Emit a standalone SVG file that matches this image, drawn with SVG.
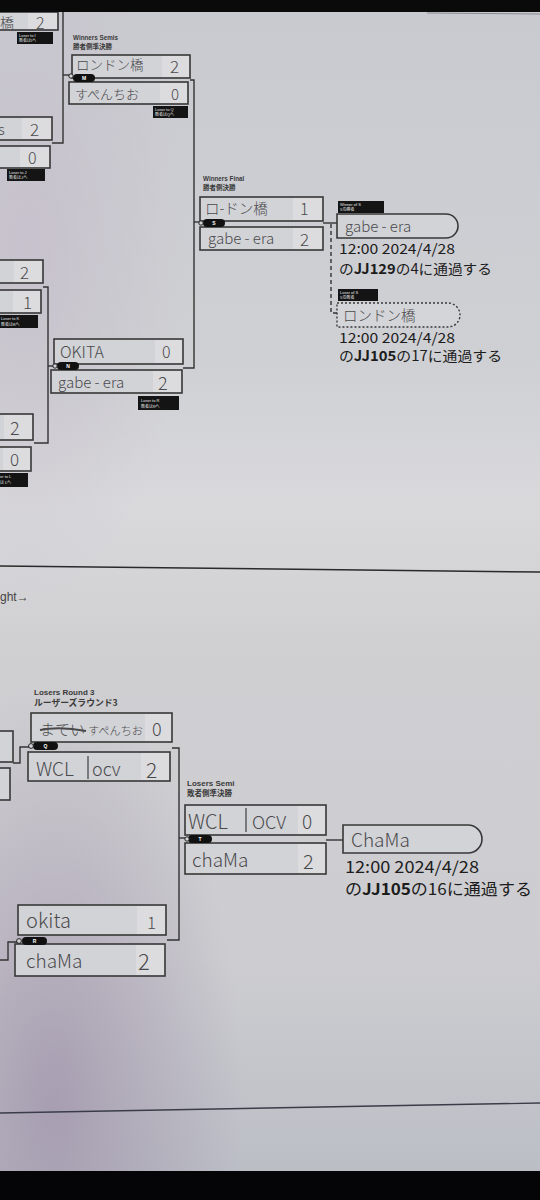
<svg xmlns="http://www.w3.org/2000/svg" width="540" height="1200" viewBox="0 0 540 1200">
<defs>
<linearGradient id="bg" x1="0" y1="0" x2="0" y2="1">
<stop offset="0" stop-color="#c9cad0"/>
<stop offset="0.3" stop-color="#cfd0d4"/>
<stop offset="0.42" stop-color="#d9d9dc"/>
<stop offset="0.55" stop-color="#cfcfd2"/>
<stop offset="0.8" stop-color="#cdcdd1"/>
<stop offset="1" stop-color="#b9bcc4"/>
</linearGradient>
<radialGradient id="pink" cx="0.1" cy="0.92" r="0.35" gradientUnits="objectBoundingBox">
<stop offset="0" stop-color="#a398ad" stop-opacity="0.85"/>
<stop offset="1" stop-color="#a398ad" stop-opacity="0"/>
</radialGradient>
<radialGradient id="pinktop" cx="0.05" cy="0.2" r="0.3">
<stop offset="0" stop-color="#c4bcc9" stop-opacity="0.7"/>
<stop offset="1" stop-color="#c4bcc9" stop-opacity="0"/>
</radialGradient>
<style>
.box{fill:#d2d3d7;stroke:#383838;stroke-width:1.6}
.cell{fill:#dcdcdf}
.hw{font-family:"Noto Sans CJK JP","Noto Sans",sans-serif;font-weight:300;fill:#4a4a4c}
.lbl{font-family:"Liberation Sans",Arial,sans-serif;font-weight:bold;fill:#3a3a3a}
.lblj{font-family:"Noto Sans CJK JP",sans-serif;font-weight:bold;fill:#3a3a3a}
.tag{fill:#141414}
.tagt{font-family:"Liberation Sans",Arial,sans-serif;font-size:4px;fill:#e8e8e8}
.tagj{font-family:"Noto Sans CJK JP",sans-serif;font-size:4px;fill:#e8e8e8}
.badge{fill:#111}
.badget{font-family:"Liberation Sans",Arial,sans-serif;font-weight:bold;font-size:5px;fill:#fff;text-anchor:middle}
.dot{fill:#d2d3d7;stroke:#222;stroke-width:1}
.line{fill:none;stroke:#333;stroke-width:1.4}
.info{font-family:"Noto Sans CJK JP","Noto Sans",sans-serif;fill:#1c1c1c}
</style>
</defs>

<rect width="540" height="1200" fill="url(#bg)"/>
<rect width="540" height="1200" fill="url(#pink)"/>
<rect width="540" height="1200" fill="url(#pinktop)"/>
<line x1="427" y1="13" x2="540" y2="14" stroke="#8a8b90" stroke-width="1"/>

<!-- page lines -->
<path d="M0,566 L540,572" stroke="#2a2a2a" stroke-width="1.5" fill="none"/>
<path d="M0,1113 L540,1103" stroke="#3a3d48" stroke-width="1.4" fill="none"/>
<text x="0" y="601" font-family="Liberation Sans, Arial, sans-serif" font-size="12" fill="#444">ght→</text>

<g id="connectors">
<path class="line" d="M63,12 V143 H52"/>
<path class="line" d="M63,75 H70"/>
<path class="line" d="M190,80 H194 V368 H183"/>
<path class="line" d="M194,222 H201"/>
<path class="line" d="M43,287 H48 V443 H34"/>
<path class="line" d="M48,366 H55"/>
<path class="line" d="M323,223 H337"/>
<path class="line" d="M331,224 V313 H337" stroke-dasharray="4 3"/>
<path class="line" d="M13,763 H20 V747 H30"/>
<path class="line" d="M172,748 H179 V940 H167"/>
<path class="line" d="M179,838 H188"/>
<path class="line" d="M326,840 H343"/>
<path class="line" d="M0,960 H8 V942 H18"/>
</g>

<!-- partial left nodes, top section -->
<g id="match-I">
<rect class="box" x="-2" y="12" width="60" height="18"/>
<rect class="cell" x="28" y="13" width="29" height="16"/>
<text class="hw" x="0" y="28" font-size="14">橋</text>
<text class="hw" x="36" y="29" font-size="16">2</text>
<rect class="tag" x="17" y="32" width="36" height="12"/>
<text class="tagt" x="19" y="37">Loser to I</text>
<text class="tagj" x="19" y="42">敗者はIへ</text>
</g>
<g id="match-J">
<rect class="box" x="-2" y="117" width="54" height="23"/>
<rect class="cell" x="22" y="118" width="29" height="21"/>
<text class="hw" x="-2" y="135" font-size="15">s</text>
<text class="hw" x="30" y="136" font-size="17">2</text>
<rect class="box" x="-2" y="146" width="52" height="22"/>
<rect class="cell" x="20" y="147" width="29" height="20"/>
<text class="hw" x="28" y="164" font-size="16">0</text>
<rect class="tag" x="7" y="169" width="38" height="12"/>
<text class="tagt" x="9" y="174">Loser to J</text>
<text class="tagj" x="9" y="179">敗者はJへ</text>
</g>
<g id="match-K">
<rect class="box" x="-2" y="260" width="45" height="23"/>
<rect class="cell" x="14" y="261" width="28" height="21"/>
<text class="hw" x="20" y="279" font-size="17">2</text>
<rect class="box" x="-2" y="290" width="43" height="23"/>
<rect class="cell" x="13" y="291" width="27" height="21"/>
<text class="hw" x="23" y="309" font-size="17">1</text>
<rect class="tag" x="-2" y="315" width="40" height="13"/>
<text class="tagt" x="1" y="320">Loser to K</text>
<text class="tagj" x="1" y="326">敗者はKへ</text>
</g>
<g id="match-L">
<rect class="box" x="-2" y="414" width="35" height="26"/>
<rect class="cell" x="4" y="415" width="28" height="24"/>
<text class="hw" x="10" y="435" font-size="18">2</text>
<rect class="box" x="-2" y="447" width="33" height="24"/>
<rect class="cell" x="3" y="448" width="27" height="22"/>
<text class="hw" x="10" y="466" font-size="17">0</text>
<rect class="tag" x="-2" y="473" width="30" height="14"/>
<text class="tagt" x="0" y="478">er to L</text>
<text class="tagj" x="0" y="484">は Lへ</text>
</g>

<!-- Winners Semis M -->
<g id="match-M">
<text class="lbl" x="73" y="40" font-size="6.3">Winners Semis</text>
<text class="lblj" x="73" y="49" font-size="6.5">勝者側準決勝</text>
<rect class="box" x="72" y="55" width="118" height="23"/>
<rect class="cell" x="162" y="56" width="27" height="21"/>
<text class="hw" x="76" y="70" font-size="13.5">ロンドン橋</text>
<text class="hw" x="170" y="73" font-size="17">2</text>
<rect class="box" x="69" y="82" width="119" height="22"/>
<rect class="cell" x="160" y="83" width="27" height="20"/>
<text class="hw" x="75" y="99" font-size="13">すぺんちお</text>
<text class="hw" x="171" y="100" font-size="15">0</text>
<rect class="badge" x="73" y="74" width="22" height="8" rx="4"/>
<circle class="dot" cx="71" cy="76" r="2.2"/>
<text class="badget" x="84" y="80">M</text>
<rect class="tag" x="153" y="106" width="35" height="12"/>
<text class="tagt" x="155" y="111">Loser to Q</text>
<text class="tagj" x="155" y="116">敗者はQへ</text>
</g>

<!-- Winners Round 2 N -->
<g id="match-N">
<rect class="box" x="54" y="339" width="129" height="25"/>
<rect class="cell" x="155" y="340" width="27" height="23"/>
<text class="hw" x="60" y="358" font-size="16">OKITA</text>
<text class="hw" x="162" y="358" font-size="16">0</text>
<rect class="box" x="51" y="370" width="131" height="23"/>
<rect class="cell" x="153" y="371" width="28" height="21"/>
<text class="hw" x="58" y="388" font-size="15">gabe - era</text>
<text class="hw" x="158" y="390" font-size="18">2</text>
<rect class="badge" x="57" y="362" width="22" height="8" rx="4"/>
<circle class="dot" cx="55" cy="366" r="2.2"/>
<text class="badget" x="68" y="368">N</text>
<rect class="tag" x="138" y="396" width="41" height="14"/>
<text class="tagt" x="141" y="402">Loser to R</text>
<text class="tagj" x="141" y="408">敗者はRへ</text>
</g>

<!-- Winners Final S -->
<g id="match-S">
<text class="lbl" x="203" y="181" font-size="6.3">Winners Final</text>
<text class="lblj" x="203" y="190" font-size="6.5">勝者側決勝</text>
<rect class="box" x="200" y="197" width="123" height="24"/>
<rect class="cell" x="293" y="198" width="29" height="22"/>
<text class="hw" x="205" y="214" font-size="14.5">ロ-ドン橋</text>
<text class="hw" x="300" y="215" font-size="16">1</text>
<rect class="box" x="200" y="227" width="123" height="23"/>
<rect class="cell" x="293" y="228" width="29" height="21"/>
<text class="hw" x="208" y="244" font-size="15">gabe - era</text>
<text class="hw" x="300" y="246" font-size="17">2</text>
<rect class="badge" x="203" y="219" width="22" height="8" rx="4"/>
<circle class="dot" cx="201" cy="223" r="2.2"/>
<text class="badget" x="214" y="225">S</text>
</g>

<g id="winner-S">
<rect class="tag" x="338" y="201" width="46" height="12"/>
<text class="tagt" x="340" y="206">Winner of S</text>
<text class="tagj" x="340" y="211">Sの勝者</text>
<path class="box" d="M337,214 H446 A12,12 0 0 1 446,238 H337 Z"/>
<text class="hw" x="345" y="232" font-size="15">gabe - era</text>
<text class="info" x="339" y="254" font-size="14" textLength="116" lengthAdjust="spacingAndGlyphs">12:00 2024/4/28</text>
<text class="info" x="339" y="274" font-size="14" textLength="153" lengthAdjust="spacingAndGlyphs">の<tspan font-weight="bold">JJ129</tspan>の4に通過する</text>
</g>

<g id="loser-S">
<rect class="tag" x="338" y="289" width="40" height="12"/>
<text class="tagt" x="340" y="294">Loser of S</text>
<text class="tagj" x="340" y="299">Sの敗者</text>
<path d="M337,303 H448 A12,12 0 0 1 448,327 H337 Z" fill="#d4d5d9" stroke="#3a3a3a" stroke-width="1.4" stroke-dasharray="2 2"/>
<text class="hw" x="343" y="321" font-size="14.5">ロンドン橋</text>
<text class="info" x="339" y="343" font-size="14" textLength="116" lengthAdjust="spacingAndGlyphs">12:00 2024/4/28</text>
<text class="info" x="339" y="361" font-size="14" textLength="163" lengthAdjust="spacingAndGlyphs">の<tspan font-weight="bold">JJ105</tspan>の17に通過する</text>
</g>

<!-- Losers section -->
<g id="losers-left">
<rect class="box" x="-2" y="731" width="15" height="31"/>
<rect class="box" x="-2" y="768" width="12" height="32"/>
</g>

<g id="match-Q">
<text class="lbl" x="34" y="695" font-size="8">Losers Round 3</text>
<text class="lblj" x="34" y="706" font-size="8.8">ルーザーズラウンド3</text>
<rect class="box" x="31" y="713" width="141" height="29"/>
<rect class="cell" x="145" y="714" width="26" height="27"/>
<text class="hw" x="40" y="735" font-size="15">まてい</text>
<path d="M40,730 Q60,726 86,731" stroke="#4a4a4c" stroke-width="2" fill="none"/>
<text class="hw" x="88" y="735" font-size="11.5" textLength="55" lengthAdjust="spacingAndGlyphs">すぺんちお</text>
<text class="hw" x="152" y="736" font-size="18">0</text>
<rect class="box" x="28" y="752" width="142" height="29"/>
<rect class="cell" x="141" y="753" width="28" height="27"/>
<text class="hw" x="36" y="776" font-size="19">WCL</text>
<line x1="88" y1="756" x2="88" y2="779" stroke="#4a4a4c" stroke-width="1.3"/>
<text class="hw" x="92" y="776" font-size="18">ocv</text>
<text class="hw" x="146" y="778" font-size="21">2</text>
<rect class="badge" x="33" y="742" width="25" height="8" rx="4"/>
<circle class="dot" cx="31" cy="746" r="2.4"/>
<text class="badget" x="45.5" y="748">Q</text>
</g>

<g id="match-R">
<rect class="box" x="18" y="905" width="148" height="30"/>
<rect class="cell" x="137" y="906" width="28" height="28"/>
<text class="hw" x="26" y="928" font-size="20">okita</text>
<text class="hw" x="147" y="929" font-size="17">1</text>
<rect class="box" x="15" y="944" width="150" height="32"/>
<rect class="cell" x="136" y="945" width="28" height="30"/>
<text class="hw" x="26" y="968" font-size="19">chaMa</text>
<text class="hw" x="138" y="970" font-size="22">2</text>
<rect class="badge" x="22" y="937" width="25" height="8" rx="4"/>
<circle class="dot" cx="19" cy="941" r="2.4"/>
<text class="badget" x="34.5" y="943">R</text>
</g>

<g id="match-T">
<text class="lbl" x="187" y="786" font-size="8">Losers Semi</text>
<text class="lblj" x="187" y="796" font-size="7.5">敗者側準決勝</text>
<rect class="box" x="185" y="805" width="141" height="30"/>
<rect class="cell" x="298" y="806" width="27" height="28"/>
<text class="hw" x="188" y="829" font-size="20">WCL</text>
<line x1="246" y1="808" x2="246" y2="832" stroke="#4a4a4c" stroke-width="1.3"/>
<text class="hw" x="252" y="829" font-size="18">OCV</text>
<text class="hw" x="302" y="829" font-size="19">0</text>
<rect class="box" x="185" y="843" width="141" height="31"/>
<rect class="cell" x="298" y="844" width="27" height="29"/>
<text class="hw" x="192" y="867" font-size="19">chaMa</text>
<text class="hw" x="303" y="869" font-size="20">2</text>
<rect class="badge" x="188" y="835" width="24" height="8" rx="4"/>
<circle class="dot" cx="187" cy="839" r="2.2"/>
<text class="badget" x="200" y="841">T</text>
</g>

<g id="winner-T">
<path class="box" d="M343,825 H468 A14,14 0 0 1 468,853 H343 Z"/>
<text class="hw" x="351" y="847" font-size="19">ChaMa</text>
<text class="info" x="345" y="873" font-size="16" textLength="134" lengthAdjust="spacingAndGlyphs">12:00 2024/4/28</text>
<text class="info" x="345" y="895" font-size="16" textLength="187" lengthAdjust="spacingAndGlyphs">の<tspan font-weight="bold">JJ105</tspan>の16に通過する</text>
</g>

<rect x="0" y="0" width="540" height="12" fill="#0a0a0a"/>
<rect x="0" y="1171" width="540" height="29" fill="#050507"/>
</svg>
